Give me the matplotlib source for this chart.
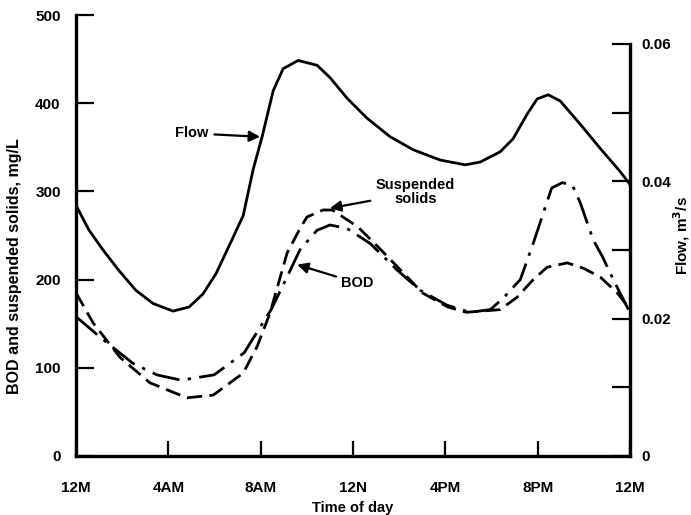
import matplotlib.pyplot as plt
import numpy as np

plt.rcParams['font.family'] = ['Liberation Sans', 'DejaVu Sans']
plt.rcParams['font.weight'] = 'bold'

# values (hours after midnight)
flow_hours = [0, 0.56, 1.17, 1.86, 2.6, 3.34, 4.2, 4.9, 5.5, 6.07, 6.63, 7.24, 7.67,
              8.06, 8.54, 8.97, 9.62, 10.44, 11.0, 11.74, 12.6, 13.6, 14.6, 15.77,
              16.85, 17.5, 18.37, 18.93, 19.54, 19.97, 20.45, 20.97, 21.84, 22.7,
              23.57, 24]
flow = [0.0365, 0.0329, 0.0300, 0.0270, 0.0241, 0.0222, 0.0211, 0.0217, 0.0236,
        0.0266, 0.0306, 0.0350, 0.0417, 0.0465, 0.0532, 0.0564, 0.0576, 0.0569,
        0.0551, 0.0521, 0.0492, 0.0465, 0.0446, 0.0431, 0.0424, 0.0428, 0.0443,
        0.0462, 0.0498, 0.0520, 0.0526, 0.0517, 0.0483, 0.0448, 0.0414, 0.0395]

bod_hours = [0, 1.17, 2.47, 3.5, 4.55, 5.98, 7.28, 8.45, 9.14, 9.7, 10.44, 11.0,
             11.74, 12.74, 13.9, 14.9, 16.07, 17.07, 17.94, 18.5, 19.24, 19.8, 20.23,
             20.6, 21.06, 21.5, 21.84, 22.4, 22.8, 23.27, 24]
bod = [158, 132, 105, 92, 86, 92, 117, 166, 203, 234, 256, 262, 258, 241, 211, 188,
       171, 163, 166, 179, 200, 241, 275, 304, 310, 307, 287, 245, 226, 200, 162]

ss_hours = [0, 0.74, 1.9, 3.2, 4.8, 5.94, 7.24, 7.84, 8.4, 9.14, 9.7, 10.0, 10.7,
            11.1, 12.2, 13.2, 14.2, 15.0, 16.1, 16.9, 18.37, 19.1, 19.8, 20.4,
            21.27, 21.97, 22.7, 23.44, 24]
ss = [185, 151, 112, 83, 66, 69, 94, 124, 162, 230, 258, 271, 279, 279, 260, 234,
      207, 185, 169, 163, 166, 180, 200, 214, 219, 213, 203, 185, 166]

x_ticks = [0, 4, 8, 12, 16, 20, 24]
x_labels = ['12M', '4AM', '8AM', '12N', '4PM', '8PM', '12M']
left_ticks = [0, 100, 200, 300, 400, 500]
right_ticks = [0, 0.01, 0.02, 0.03, 0.04, 0.05, 0.06]
right_labels = ['0', '', '0.02', '', '0.04', '', '0.06']

fig = plt.figure(figsize=(6.91, 5.15), dpi=100)
ax = fig.add_axes([0.110, 0.1146, 0.802, 0.856])
ax2 = ax.twinx()

lw = 2.0
ax2.plot(flow_hours, flow, color='k', lw=lw, solid_joinstyle='round')
ax.plot(bod_hours, bod, color='k', lw=lw, dashes=(10, 3, 1.2, 3), dash_joinstyle='round')
ax.plot(ss_hours, ss, color='k', lw=lw, dashes=(5.5, 2.6), dash_joinstyle='round')

ax.set_xlim(0, 24)
ax.set_ylim(0, 500)
ax2.set_ylim(0, 0.0642)

for s in ['top', 'right']:
    ax.spines[s].set_visible(False)
for s in ['top', 'left', 'bottom']:
    ax2.spines[s].set_visible(False)
ax.spines['left'].set_linewidth(2.4)
ax.spines['bottom'].set_linewidth(2.4)
ax2.spines['right'].set_linewidth(2.4)
ax2.spines['right'].set_bounds(0, 0.06)

ax.set_xticks(x_ticks)
ax.set_xticklabels(x_labels)
ax.set_yticks(left_ticks)
ax2.set_yticks(right_ticks)
ax2.set_yticklabels(right_labels)

ax.tick_params(axis='x', direction='in', length=11, width=1.6, pad=18, labelsize=11)
ax.tick_params(axis='y', direction='in', length=13, width=1.6, pad=11, labelsize=11)
ax2.tick_params(axis='y', direction='in', length=13, width=1.6, pad=8, labelsize=11)
for t in ax.get_xticklabels() + ax.get_yticklabels() + ax2.get_yticklabels():
    t.set_fontweight('bold')

ax.set_xlabel('Time of day', fontsize=10.5, fontweight='bold', labelpad=4)
ax.set_ylabel('BOD and suspended solids, mg/L', fontsize=11.5, fontweight='bold')
ax.yaxis.set_label_coords(-0.097, 0.43)
ax2.set_ylabel('Flow, m$^3$/s', fontsize=11, fontweight='bold')
ax2.yaxis.set_label_coords(1.075, 0.5)

arrow = dict(arrowstyle='-|>', color='k', lw=1.6, mutation_scale=16, shrinkA=2, shrinkB=0)
ax.annotate('Flow', xy=(7.97, 362), xytext=(5.03, 366), ha='center', va='center',
            fontsize=10.5, fontweight='bold', arrowprops=arrow)
ax.annotate('Suspended\nsolids', xy=(11.0, 281), xytext=(14.7, 299), ha='center',
            va='center', fontsize=10.5, fontweight='bold', linespacing=1.0,
            arrowprops=arrow)
ax.annotate('BOD', xy=(9.58, 217), xytext=(12.2, 196), ha='center', va='center',
            fontsize=10.5, fontweight='bold', arrowprops=arrow)

fig.savefig('out.png', dpi=100)
